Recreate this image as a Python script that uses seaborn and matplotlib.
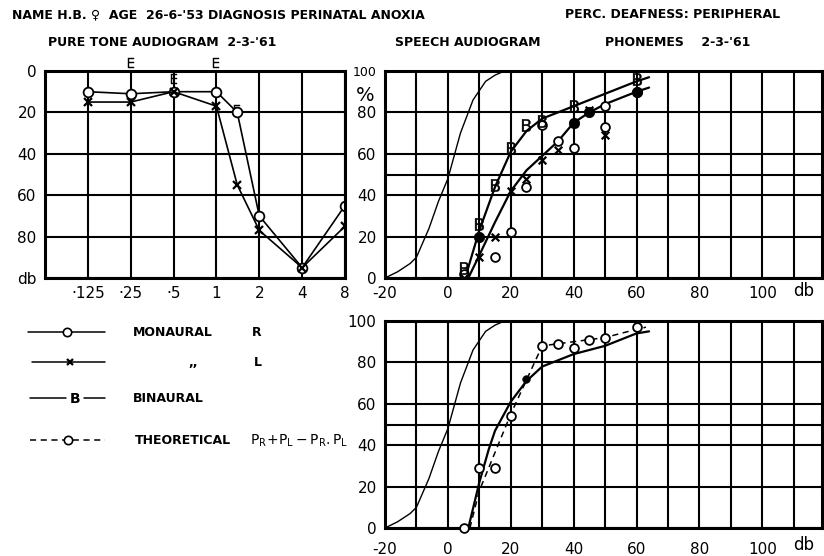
import matplotlib
matplotlib.use("Agg")
import matplotlib.pyplot as plt
import seaborn as sns

# pure tone audiogram (kHz / db loss)
freq_khz = [0.125, 0.25, 0.5, 1, 1.4, 2, 4, 8]
air_right = [10, 11, 10, 10, 20, 70, 95, 65]
air_left = [15, 15, 10, 17, 55, 77, 95, 75]
bone_khz = [0.25, 0.5, 1, 1.4]
bone_db = [-4, 4, -4, 19]
freq_ticks = [0.125, 0.25, 0.5, 1, 2, 4, 8]
freq_labels = ['·125', '·25', '·5', '1', '2', '4', '8']

# normal speech curve (db, % correct)
normal_db = [-20, -16, -12, -10, -6, -3, 0, 4, 8, 12, 15, 18]
normal_pct = [0, 3, 7, 10, 24, 37, 48, 70, 86, 95, 98, 100]

# phonemes, top panel
bin_curve_db = [5.5, 10, 15, 20, 25, 30, 40, 50, 60, 64]
bin_curve_pct = [0, 23, 44, 61, 71, 77, 83, 89, 95, 97]
mon_curve_db = [6.5, 10, 15, 20, 25, 30, 35, 40, 45, 50, 60, 64]
mon_curve_pct = [0, 11, 27, 42, 52, 59, 66, 75, 80, 84, 90, 92]
right_db = [5, 15, 20, 25, 30, 35, 40, 50, 50, 60]
right_pct = [2, 10, 22, 44, 74, 66, 63, 73, 83, 90]
left_db = [5, 10, 15, 20, 25, 30, 35, 40, 45, 50]
left_pct = [0, 10, 20, 42, 48, 57, 62, 75, 81, 69]
both_db = [10, 40, 45, 60]
both_pct = [20, 75, 80, 90]
binaural_db = [5, 10, 15, 20, 25, 30, 40, 60]
binaural_pct = [5, 26, 45, 63, 74, 76, 83, 96]

# bottom panel: binaural vs theoretical
bin2_curve_db = [6.5, 10, 13, 15, 20, 25, 30, 40, 50, 60, 64]
bin2_curve_pct = [0, 22, 38, 47, 61, 71, 78, 84, 88, 94, 95]
theo_curve_db = [7, 10, 20, 30, 35, 40, 45, 50, 60, 63]
theo_curve_pct = [0, 18, 55, 88, 89, 90, 91, 92, 96, 97]
theo_db = [5, 10, 15, 20, 30, 35, 40, 45, 50, 60]
theo_pct = [0, 29, 29, 54, 88, 89, 87, 91, 92, 97]
bin2_db = [25]
bin2_pct = [72]

sns.set_style("white")
plt.rcParams['font.family'] = ['DejaVu Sans']
plt.rcParams['text.color'] = 'black'
plt.rcParams['xtick.color'] = 'black'
plt.rcParams['ytick.color'] = 'black'
plt.rcParams['axes.labelcolor'] = 'black'

fig = plt.figure(figsize=(8.24, 5.56), dpi=100)
W, H = 824, 556


def frame(ax):
    for s in ax.spines.values():
        s.set_linewidth(2.2)
        s.set_color('black')
    ax.tick_params(length=0, labelsize=11, pad=6)


# ---- pure tone audiogram
ax1 = fig.add_axes([45 / W, 1 - 278 / H, 300 / W, 207 / H])
sns.lineplot(x=freq_khz, y=air_right, ax=ax1, color='black', lw=1.2,
             marker='o', markersize=7, markerfacecolor='white',
             markeredgecolor='black', markeredgewidth=1.3)
sns.lineplot(x=freq_khz, y=air_left, ax=ax1, color='black', lw=1.2,
             marker='x', markersize=6, markeredgecolor='black',
             markeredgewidth=1.6)
sns.scatterplot(x=bone_khz, y=bone_db, ax=ax1, marker='$\\mathsf{E}$',
                s=45, color='black', edgecolor='black', linewidth=0.3,
                clip_on=False)
ax1.set_xscale('log', base=2)
ax1.set_xlim(0.0625, 8)
ax1.set_ylim(100, 0)
ax1.set_xticks(freq_ticks)
ax1.set_xticklabels(freq_labels)
ax1.minorticks_off()
ax1.set_yticks([0, 20, 40, 60, 80, 100])
ax1.set_yticklabels(['0', '20', '40', '60', '80', 'db'])
ax1.yaxis.get_ticklabels()[-1].set_fontsize(15)
ax1.grid(True, color='black', lw=1.5)
frame(ax1)
ax1.set_xlabel('')
ax1.set_ylabel('')


def speech_axes(rect):
    ax = fig.add_axes(rect)
    sns.lineplot(x=normal_db, y=normal_pct, ax=ax, color='black', lw=1.0)
    ax.set_xlim(-20, 119)
    ax.set_ylim(0, 100)
    ax.set_xticks(range(-10, 111, 10), minor=True)
    ax.set_xticks([-20, 0, 20, 40, 60, 80, 100])
    ax.set_xticklabels(['-20', '0', '20', '40', '60', '80', '100'])
    ax.set_yticks([40, 50, 60], minor=True)
    ax.set_yticks([0, 20, 40, 60, 80, 100])
    ax.grid(True, which='both', color='black', lw=1.5)
    frame(ax)
    return ax


# ---- speech audiogram, phonemes
ax2 = speech_axes([385 / W, 1 - 278 / H, 437 / W, 207 / H])
sns.lineplot(x=bin_curve_db, y=bin_curve_pct, ax=ax2, color='black', lw=1.6)
sns.lineplot(x=mon_curve_db, y=mon_curve_pct, ax=ax2, color='black', lw=1.6)
sns.scatterplot(x=right_db, y=right_pct, ax=ax2, marker='o', s=40,
                facecolor='white', edgecolor='black', linewidth=1.3, zorder=4)
sns.scatterplot(x=left_db, y=left_pct, ax=ax2, marker='x', s=30,
                color='black', linewidth=1.6, zorder=4)
sns.scatterplot(x=both_db, y=both_pct, ax=ax2, marker='o', s=55,
                color='black', edgecolor='black', zorder=4)
sns.scatterplot(x=binaural_db, y=binaural_pct, ax=ax2, marker='$\\mathsf{B}$',
                s=80, color='black', edgecolor='black', linewidth=0.3,
                zorder=5)
ax2.set_yticklabels(['0', '20', '40', '60', '80', '100'])
ax2.yaxis.get_ticklabels()[-1].set_fontsize(9)
ax2.text(-0.046, 0.88, '%', transform=ax2.transAxes, fontsize=14,
         ha='center', va='center')
ax2.text(113, -6.5, 'db', fontsize=12, ha='center', va='center')

# ---- binaural vs theoretical
ax3 = speech_axes([385 / W, 1 - 528 / H, 437 / W, 207 / H])
sns.lineplot(x=bin2_curve_db, y=bin2_curve_pct, ax=ax3, color='black', lw=1.6)
sns.lineplot(x=theo_curve_db, y=theo_curve_pct, ax=ax3, color='black',
             lw=1.1, linestyle=(0, (4, 3)))
sns.scatterplot(x=theo_db, y=theo_pct, ax=ax3, marker='o', s=40,
                facecolor='white', edgecolor='black', linewidth=1.3, zorder=4,
                clip_on=False)
sns.scatterplot(x=bin2_db, y=bin2_pct, ax=ax3, marker='o', s=30,
                color='black', edgecolor='black', zorder=4)
ax3.set_yticklabels(['0', '20', '40', '60', '80', '100'])
ax3.tick_params(axis='x', pad=10)
ax3.text(113, -8, 'db', fontsize=12, ha='center', va='center')

# ---- header and key, drawn in pixel space
bg = fig.add_axes([0, 0, 1, 1], zorder=-1)
bg.set_xlim(0, W)
bg.set_ylim(H, 0)
bg.axis('off')

hdr = dict(fontsize=9, fontweight='bold', va='center', ha='left')
bg.text(12, 15, "NAME H.B. \u2640  AGE  26-6-'53 DIAGNOSIS PERINATAL ANOXIA", **hdr)
bg.text(565, 15, "PERC. DEAFNESS: PERIPHERAL", **hdr)
bg.text(48, 43, "PURE TONE AUDIOGRAM  2-3-'61", **hdr)
bg.text(395, 43, "SPEECH AUDIOGRAM", **hdr)
bg.text(605, 43, "PHONEMES    2-3-'61", **hdr)

key = dict(fontsize=9, fontweight='bold', va='center', ha='left')
bg.plot([28, 105], [332, 332], color='black', lw=1.1)
bg.plot([67], [332], marker='o', ms=6, mfc='white', mec='black', mew=1.2)
bg.text(133, 332, 'MONAURAL', **key)
bg.text(252, 332, 'R', **key)
bg.plot([32, 105], [362, 362], color='black', lw=1.1)
bg.plot([70], [362], marker='x', ms=5, color='black', mew=1.6)
bg.text(188, 362, ',,', **key)
bg.text(254, 362, 'L', **key)
bg.plot([30, 66], [398, 398], color='black', lw=1.1)
bg.plot([84, 105], [398, 398], color='black', lw=1.1)
bg.text(75, 399, 'B', fontsize=10, fontweight='bold', ha='center', va='center')
bg.text(133, 398, 'BINAURAL', **key)
bg.plot([30, 105], [440, 440], color='black', lw=1.1, linestyle=(0, (4, 3)))
bg.plot([68], [440], marker='o', ms=6, mfc='white', mec='black', mew=1.2)
bg.text(135, 440, 'THEORETICAL', **key)
bg.text(250, 441, '$\\mathsf{P_R\\!+\\!P_L - P_{R}.P_{L}}$', fontsize=10,
        va='center', ha='left')

fig.savefig('out.png', dpi=100)
